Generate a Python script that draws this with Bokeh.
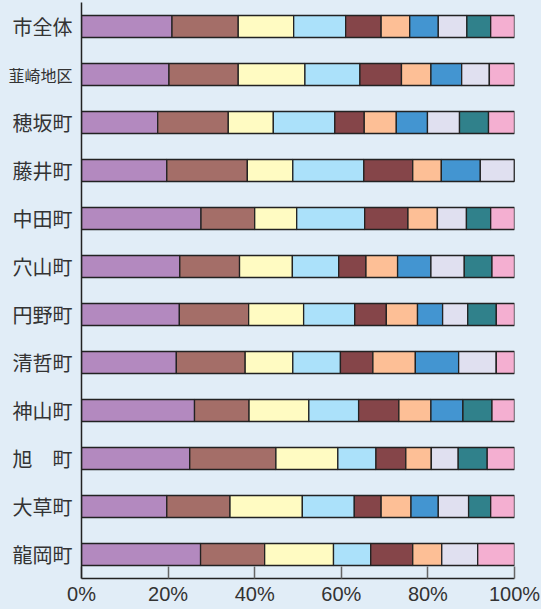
from bokeh.plotting import figure
from bokeh.layouts import row
from bokeh.models import Range1d, FixedTicker, ColumnDataSource, GlobalInlineStyleSheet
from bokeh.core.properties import value
from bokeh.embed import file_html
from bokeh.resources import INLINE

categories = ["市全体", "韮崎地区", "穂坂町", "藤井町", "中田町", "穴山町",
              "円野町", "清哲町", "神山町", "旭　町", "大草町", "龍岡町"]

s1 = [20.9, 20.2, 17.6, 19.7, 27.6, 22.7, 22.6, 21.9, 26.1, 25.0, 19.7, 27.5]
s2 = [15.3, 16.0, 16.3, 18.6, 12.4, 13.8, 16.0, 15.9, 12.6, 19.9, 14.6, 14.8]
s3 = [12.8, 15.4, 10.4, 10.5, 9.7, 12.2, 12.7, 11.0, 13.8, 14.3, 16.7, 15.9]
s4 = [12.0, 12.7, 14.2, 16.4, 15.7, 10.7, 11.8, 11.0, 11.5, 8.8, 12.0, 8.6]
s5 = [8.2, 9.6, 6.8, 11.3, 10.0, 6.3, 7.3, 7.5, 9.3, 6.9, 6.2, 9.7]
s6 = [6.6, 6.8, 7.4, 6.6, 6.8, 7.3, 7.2, 9.8, 7.4, 5.9, 6.9, 6.7]
s7 = [6.6, 7.1, 7.2, 9.0, 0.0, 7.7, 5.8, 10.0, 7.4, 0.0, 6.3, 0.0]
s8 = [6.6, 6.4, 7.4, 7.9, 6.7, 7.7, 5.8, 8.7, 0.0, 6.2, 7.0, 8.3]
s9 = [5.5, 0.0, 6.7, 0.0, 5.6, 6.4, 6.6, 0.0, 6.7, 6.7, 5.1, 0.0]
s10 = [5.5, 5.8, 6.0, 0.0, 5.5, 5.2, 4.2, 4.2, 5.2, 6.3, 5.5, 8.5]

series = [s1, s2, s3, s4, s5, s6, s7, s8, s9, s10]
series_names = ["s1", "s2", "s3", "s4", "s5", "s6", "s7", "s8", "s9", "s10"]
colors = ["#b389bf", "#a46e68", "#fffbc2", "#abe1fa", "#854549",
          "#fdbf96", "#4395d1", "#e0e0f0", "#30818b", "#f4afd1"]

x_ticks = [0, 20, 40, 60, 80, 100]
x_tick_labels = ["0%", "20%", "40%", "60%", "80%", "100%"]

BG = "#e1edf7"
W, H = 541, 609
LEFT_W = 81
TOP, BOTTOM = 2, 31

ypos = list(range(len(categories)))
data = {"y": ypos}
for name, vals in zip(series_names, series):
    data[name] = vals
source = ColumnDataSource(data)

y_range = Range1d(11.5, -0.5)

# ---- main plot (full width, left border left free for the name panel)
p = figure(width=W, height=H,
           x_range=Range1d(0, 100), y_range=y_range,
           output_backend="svg", toolbar_location=None,
           min_border_left=LEFT_W, min_border_right=27,
           min_border_top=TOP, min_border_bottom=BOTTOM)

p.background_fill_color = BG
p.border_fill_color = BG
p.outline_line_color = None
p.grid.visible = False

p.hbar_stack(series_names, y="y", height=0.458, color=colors, source=source,
             line_color="#222222", line_width=1.3)

ya = p.yaxis[0]
ya.ticker = FixedTicker(ticks=ypos)
ya.major_label_overrides = {i: "" for i in ypos}
ya.major_label_text_font_size = "0px"
ya.major_label_standoff = 0
ya.major_tick_out = 0
ya.major_tick_in = 0
ya.major_tick_line_color = None
ya.minor_tick_line_color = None
ya.axis_line_color = "#222222"
ya.axis_line_width = 1.5

xa = p.xaxis[0]
xa.ticker = FixedTicker(ticks=x_ticks)
xa.major_label_overrides = {t: l for t, l in zip(x_ticks, x_tick_labels)}
xa.major_tick_in = 12
xa.major_tick_out = 0
xa.major_tick_line_color = "#666666"
xa.major_tick_line_width = 1.5
xa.minor_tick_line_color = None
xa.major_label_standoff = 4
xa.major_label_text_font = "Liberation Sans"
xa.major_label_text_font_size = "20px"
xa.major_label_text_color = "#333333"
xa.axis_line_color = "#222222"
xa.axis_line_width = 1.5

# ---- transparent name panel laid over the left border
lab = figure(width=LEFT_W, height=H, x_range=Range1d(0, LEFT_W), y_range=y_range,
             output_backend="svg", toolbar_location=None,
             min_border_left=0, min_border_right=0, min_border_top=TOP,
             min_border_bottom=BOTTOM)
lab.axis.visible = False
lab.grid.visible = False
lab.outline_line_color = None
lab.background_fill_alpha = 0
lab.border_fill_alpha = 0
lab.styles = {"position": "absolute", "left": "0px", "top": "0px", "z-index": "2"}

short = [i for i, c in enumerate(categories) if len(c) <= 3]
long_ = [i for i, c in enumerate(categories) if len(c) > 3]
lab.text(x=[LEFT_W - 9] * len(short), y=[ypos[i] for i in short],
         text=[categories[i] for i in short], text_align="right",
         text_baseline="middle", text_font=value("Noto Sans CJK JP"),
         text_font_size="20px", text_color="#333333")
lab.text(x=[LEFT_W - 9] * len(long_), y=[ypos[i] for i in long_],
         text=[categories[i] for i in long_], text_align="right",
         text_baseline="middle", text_font=value("Noto Sans CJK JP"),
         text_font_size="16px", text_color="#333333")

layout = row(p, lab, spacing=0)
layout.stylesheets = [GlobalInlineStyleSheet(css="body { background: %s; }" % BG)]

open("out.html", "w").write(file_html(layout, INLINE))
